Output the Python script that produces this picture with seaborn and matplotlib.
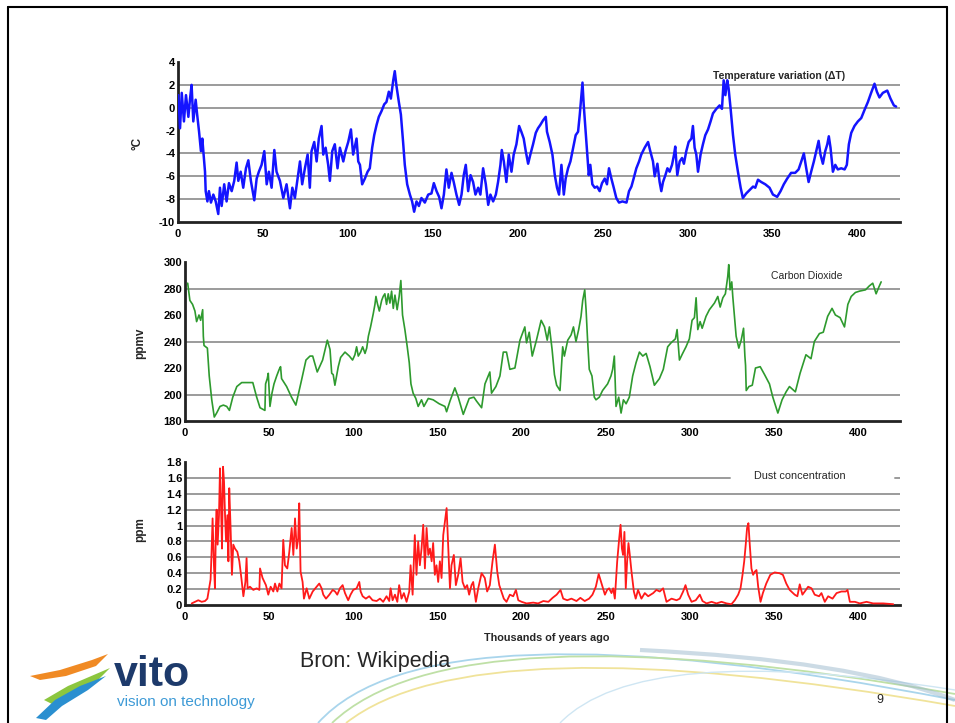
'''
Vostok ice core slide: temperature, CO2 and dust over the last 420 000 years.
'''

#####################################
# Import Modules at the Top
#####################################

import seaborn as sns
import matplotlib.pyplot as plt
from matplotlib.patches import Polygon, PathPatch
from matplotlib.path import Path
from matplotlib.lines import Line2D

#####################################
# Data
#####################################

x_ticks = [0, 50, 100, 150, 200, 250, 300, 350, 400]
x_tick_labels = ["0", "50", "100", "150", "200", "250", "300", "350", "400"]

temp_ticks = [4, 2, 0, -2, -4, -6, -8, -10]
temp_tick_labels = ["4", "2", "0", "-2", "-4", "-6", "-8", "-10"]
temp_grid = [2, 0, -4, -6, -8]

co2_ticks = [300, 280, 260, 240, 220, 200, 180]
co2_tick_labels = ["300", "280", "260", "240", "220", "200", "180"]
co2_grid = [280, 240, 200]

dust_ticks = [1.8, 1.6, 1.4, 1.2, 1.0, 0.8, 0.6, 0.4, 0.2, 0]
dust_tick_labels = ["1.8", "1.6", "1.4", "1.2", "1", "0.8", "0.6", "0.4", "0.2", "0"]
dust_grid = [1.4, 1.2, 1.0, 0.8, 0.6, 0.4, 0.2]

temp_age = [0.2, 1.2, 2.2, 3.5, 4.7, 6.1, 7.1, 8.0, 9.0, 10.4, 11.2, 12.4, 13.5, 14.3,
            15.9, 16.3, 17.3, 18.2, 19.4, 20.8, 22.2, 23.7, 24.7, 25.7, 27.2, 28.6,
            30.0, 31.6, 33.1, 34.5, 35.5, 36.9, 38.4, 40.0, 41.4, 42.9, 44.9, 46.3,
            47.6, 49.2, 50.8, 52.2, 53.5, 55.1, 56.7, 58.0, 60.0, 62.0, 63.9, 65.9,
            67.3, 68.8, 70.4, 71.8, 73.1, 74.7, 76.3, 77.6, 78.6, 80.2, 81.6, 82.9,
            84.5, 85.5, 86.9, 88.4, 89.4, 90.8, 92.3, 93.9, 95.3, 97.3, 98.6, 100.2,
            101.8, 103.1, 105.1, 106.1, 107.1, 108.4, 110.0, 111.6, 112.9, 114.3,
            115.5, 116.9, 118.2, 119.8, 121.4, 122.7, 124.1, 125.3, 126.7, 127.6,
            128.6, 130.0, 131.2, 132.5, 133.5, 134.9, 136.5, 137.8, 139.0, 140.4,
            141.8, 143.3, 145.3, 147.3, 149.2, 150.6, 152.2, 153.7, 155.1, 156.5,
            158.0, 159.4, 161.0, 162.3, 163.9, 165.5, 166.9, 168.2, 169.4, 170.8,
            172.2, 173.7, 175.1, 176.7, 178.0, 179.6, 181.2, 182.6, 183.9, 185.5,
            187.1, 188.4, 189.8, 190.6, 191.8, 193.3, 194.7, 196.3, 197.6, 199.2,
            200.8, 202.1, 203.5, 204.7, 206.1, 207.4, 209.0, 210.6, 211.9, 213.3,
            214.9, 216.5, 217.2, 218.8, 220.4, 221.8, 223.1, 224.3, 225.7, 227.1,
            228.2, 229.6, 231.0, 232.6, 234.1, 235.5, 236.5, 237.5, 238.1, 238.8,
            239.8, 240.8, 241.8, 242.7, 243.9, 245.3, 246.7, 248.2, 249.6, 251.2,
            252.5, 253.7, 255.1, 256.5, 258.0, 259.6, 261.6, 264.0, 265.5, 266.9,
            268.2, 269.8, 271.4, 272.7, 274.7, 276.7, 278.0, 279.6, 280.6, 282.2,
            283.5, 284.5, 285.5, 286.9, 288.1, 289.4, 290.8, 292.0, 292.7, 293.9,
            295.3, 296.7, 297.8, 299.2, 300.6, 302.2, 303.1, 304.1, 305.1, 306.1,
            307.6, 309.0, 310.4, 312.0, 313.5, 314.9, 316.9, 318.8, 320.2, 321.2,
            322.2, 323.3, 324.1, 325.3, 326.7, 328.0, 329.6, 331.2, 332.5, 334.5,
            336.5, 338.5, 339.8, 341.4, 343.3, 345.7, 348.2, 350.2, 352.7, 354.7,
            356.6, 358.6, 360.9, 363.3, 365.3, 366.9, 368.4, 369.8, 371.2, 372.7,
            374.3, 375.7, 377.1, 378.2, 379.6, 381.0, 382.2, 383.1, 384.1, 385.5,
            386.9, 388.4, 390.4, 392.4, 393.7, 394.9, 396.3, 398.2, 400.2, 402.2,
            404.1, 406.1, 408.0, 410.0, 411.4, 412.9, 414.9, 417.5, 419.4, 421.4,
            422.7]
temp_val = [1.1, -1.8, 1.3, -1.2, 1.1, -0.8, 0.8, 2.0, -1.2, 0.7, -0.5, -2.1, -3.8, -2.7,
            -5.6, -7.3, -8.2, -7.3, -8.3, -7.6, -8.2, -9.3, -7.0, -8.6, -6.7, -8.2,
            -6.6, -7.3, -6.4, -4.8, -6.4, -5.6, -7.0, -5.3, -4.6, -6.4, -8.1, -6.2,
            -5.6, -5.0, -3.8, -6.7, -5.6, -7.0, -3.7, -5.6, -6.4, -7.9, -6.7, -8.8,
            -7.0, -7.9, -6.2, -4.7, -6.7, -5.3, -4.1, -7.0, -3.8, -3.0, -4.7, -2.7,
            -1.6, -4.1, -3.5, -5.0, -6.4, -3.8, -3.2, -5.3, -3.5, -4.7, -3.8, -3.0,
            -1.9, -4.1, -2.7, -4.7, -5.0, -6.7, -6.2, -5.6, -5.3, -3.5,
            -2.4, -1.5, -0.8, -0.3, 0.3, 0.5, 1.4, 0.8, 2.4, 3.2,
            1.9, 0.5, -0.6, -3.0, -5.0, -6.7, -7.6, -8.2, -9.1, -8.2,
            -8.6, -7.9, -8.3, -7.6, -7.5, -6.6, -7.3, -7.8, -8.8, -7.6,
            -5.4, -7.0, -5.7, -6.5, -7.6, -8.5, -7.6, -5.9, -5.0, -7.3,
            -5.9, -6.5, -7.6, -7.0, -7.6, -5.3, -6.7, -8.5, -7.6, -8.2,
            -7.6, -6.5, -5.0, -3.7, -4.7, -6.5, -4.1, -5.6, -4.1, -3.2,
            -1.6, -2.1, -2.7, -3.8, -4.9, -4.1, -3.2, -2.2, -1.8, -1.5,
            -1.1, -0.8, -2.1, -3.0, -4.1, -5.9, -7.0, -7.6, -5.0, -7.6,
            -6.2, -5.3, -4.7, -3.5, -2.4, -2.1, -0.6, 1.1, 2.2, 0.3,
            -1.8, -3.8, -5.9, -5.0, -6.7, -7.0, -6.9, -7.3, -6.6, -6.2,
            -6.7, -5.3, -6.2, -7.0, -7.9, -8.3, -8.2, -8.3, -7.3, -6.9,
            -6.2, -5.3, -4.7, -4.1, -3.5, -3.0, -3.8, -4.7, -6.0, -4.9,
            -6.5, -7.3, -6.5, -5.9, -5.3, -5.6, -5.0, -4.1, -3.4, -5.9,
            -4.7, -4.4, -4.9, -3.8, -3.0, -2.7, -1.6, -3.5, -4.1, -5.6,
            -4.1, -3.2, -2.4, -1.9, -1.2, -0.5, -0.1, 0.2, -0.1, 2.4,
            1.1, 2.4, 1.7, -0.1, -2.4, -4.1, -5.6, -7.0, -7.9, -7.5,
            -7.2, -6.9, -7.0, -6.3, -6.5, -6.7, -7.0, -7.6, -7.8, -7.3,
            -6.7, -6.2, -5.7, -5.7, -5.4, -4.7, -4.0, -5.3, -6.5, -5.6,
            -4.7, -3.8, -2.9, -4.1, -4.9, -3.8, -3.2, -2.5, -3.5, -5.6,
            -5.0, -5.4, -5.3, -5.4, -5.0, -3.2, -2.2, -1.6, -1.2, -0.9,
            -0.2, 0.5, 1.3, 2.1, 1.4, 0.9, 1.3, 1.5, 0.8, 0.2,
            0.1]

co2_age = [1.6, 2.9, 4.5, 5.9, 6.9, 8.3, 9.3, 10.5, 10.9, 11.3, 13.3, 14.4, 15.9, 17.4,
           18.8, 20.8, 22.8, 24.8, 26.4, 28.4, 30.8, 33.7, 37.1, 40.3, 42.6, 44.6, 47.5,
           47.9, 48.9, 49.5, 50.5, 51.7, 52.9, 54.5, 56.0, 56.8, 57.4, 60.4, 63.3, 65.9,
           69.3, 71.9, 74.3, 75.9, 78.6, 81.8, 84.6, 86.2, 87.2, 88.1, 89.1, 91.1, 92.5,
           95.1, 97.7, 99.6, 101.0, 102.0, 103.0, 104.4, 105.6, 107.0, 108.0, 109.0,
           110.3, 111.9, 112.9, 113.5, 114.3, 115.5, 116.9, 117.8, 118.8, 119.8, 120.8,
           121.8, 122.8, 123.8, 124.8, 126.1, 127.3, 128.3, 129.3, 130.7, 132.1, 133.3,
           134.3, 135.6, 137.2, 138.6, 140.6, 142.0, 144.6, 147.5, 151.1, 154.5, 155.5,
           157.5, 160.4, 162.4, 165.4, 168.9, 171.7, 173.3, 176.3, 178.3, 181.2, 182.2,
           184.8, 187.2, 189.2, 191.1, 193.1, 196.1, 199.1, 202.0, 203.0, 204.6, 206.4,
           208.9, 211.7, 213.7, 215.3, 216.6, 218.2, 219.6, 220.9, 222.9, 224.5, 225.5,
           227.5, 229.5, 230.9, 232.4, 234.0, 235.4, 236.4, 237.6, 238.4, 239.3, 240.3,
           241.9, 243.3, 244.3, 246.3, 248.2, 251.2, 253.2, 254.2, 255.2, 256.2, 257.8,
           259.2, 260.6, 262.2, 264.1, 266.1, 268.1, 270.1, 272.1, 274.1, 276.4, 279.0,
           282.0, 284.3, 286.9, 288.9, 291.5, 292.5, 293.9, 295.8, 297.8, 299.8, 301.4,
           302.8, 303.8, 304.8, 306.2, 307.4, 309.7, 311.7, 314.7, 316.7, 318.1, 319.7,
           321.2, 322.6, 323.2, 324.0, 325.0, 325.6, 326.6, 327.6, 329.2, 330.6, 332.0,
           332.8, 333.2, 333.6, 335.2, 337.2, 339.1, 341.9, 344.5, 347.4, 349.4, 352.4,
           354.9, 357.3, 359.3, 362.8, 365.6, 369.1, 372.1, 374.1, 377.1, 379.4, 382.0,
           384.6, 386.6, 389.4, 392.0, 394.0, 396.0, 398.5, 400.9, 404.5, 406.8, 408.8,
           410.8, 412.4, 413.8]
co2_val = [284, 271, 268, 263, 255, 260, 256, 264, 244, 237, 235, 214, 196, 183,
           186, 191, 192, 191, 188, 198, 206, 209, 209, 209, 198, 190, 188,
           208, 212, 216, 191, 201, 208, 214, 219, 221, 212, 206, 198, 192,
           211, 226, 229, 229, 217, 226, 241, 234, 216, 215, 207, 221, 228,
           232, 229, 226, 230, 236, 229, 232, 236, 231, 235, 244,
           251, 261, 268, 274, 269, 263, 271, 274, 276, 268, 276,
           269, 278, 265, 275, 264, 274, 286, 260, 249, 236, 224,
           208, 201, 197, 191, 196, 191, 197, 196, 193, 191, 187,
           195, 205, 198, 185, 197, 198, 195, 190, 208, 217, 201,
           206, 214, 232, 232, 219, 220, 241, 251, 239, 247, 229,
           241, 256, 251, 241, 251, 234, 215, 207, 203, 236, 229,
           241, 245, 251, 240, 249, 259, 271, 279, 264, 241, 219,
           214, 198, 196, 198, 203, 208, 214, 219, 229, 191, 198,
           186, 196, 193, 198, 214, 224, 232, 229, 231, 221, 207,
           212, 219, 236, 239, 242, 249, 226, 231, 236, 242, 256,
           258, 273, 249, 255, 250, 259, 264, 269, 274, 266, 273,
           276, 289, 298, 279, 285, 274, 259, 244, 235, 241, 250,
           229, 222, 203, 206, 207, 220, 221, 215, 208, 198, 186,
           196, 202, 206, 202, 216, 230, 227, 240, 246, 247, 259,
           265, 260, 258, 251, 268, 274, 277, 278, 279, 282, 284,
           276, 281, 285]

dust_age = [4.0, 5.9, 7.9, 9.9, 11.9, 13.3, 14.5, 15.2, 15.8, 16.4, 17.2, 17.8, 18.4,
            18.8, 19.4, 20.2, 20.8, 21.4, 22.0, 22.6, 23.2, 23.8, 24.4, 25.2, 25.8,
            26.3, 27.1, 27.9, 28.7, 29.7, 31.1, 32.3, 33.5, 34.7, 35.9, 36.6, 37.2,
            38.6, 40.6, 42.6, 44.2, 44.6, 46.1, 48.1, 49.5, 50.9, 52.5, 53.5, 54.9,
            56.1, 57.4, 58.4, 59.4, 60.8, 62.0, 63.4, 64.4, 65.4, 66.4, 67.3, 67.9,
            68.7, 69.9, 70.7, 72.3, 73.9, 75.9, 78.2, 79.8, 81.2, 82.2, 83.8, 85.8,
            87.8, 89.2, 90.5, 92.1, 93.7, 95.1, 97.0, 98.4, 100.0, 102.0, 103.6, 104.4,
            105.6, 107.5, 109.5, 111.5, 113.9, 115.9, 117.8, 119.8, 121.4, 122.2, 123.4,
            124.8, 126.2, 127.3, 128.7, 130.1, 131.7, 133.3, 134.1, 135.3, 136.6, 137.6,
            138.6, 139.6, 140.6, 141.6, 142.6, 143.6, 144.6, 145.6, 146.6, 147.5, 148.5,
            149.5, 150.5, 151.5, 152.5, 153.5, 154.5, 155.5, 156.5, 157.5, 158.4, 159.8,
            161.0, 162.4, 163.8, 165.0, 166.4, 167.7, 168.9, 170.3, 171.3, 172.9, 174.3,
            176.3, 178.2, 179.6, 181.2, 182.8, 184.2, 185.6, 186.8, 188.1, 189.5, 191.1,
            193.1, 195.1, 196.7, 198.1, 200.1, 203.0, 207.0, 209.9, 213.0, 216.0, 218.5,
            220.9, 223.2, 224.8, 227.2, 229.7, 232.7, 235.0, 237.6, 240.2, 242.2, 244.2,
            245.9, 247.6, 249.6, 250.9, 252.1, 253.5, 254.5, 255.5, 256.9, 258.1, 258.9,
            259.7, 260.4, 261.2, 262.0, 262.8, 263.6, 264.4, 265.4, 266.8, 267.9, 269.3,
            271.3, 273.3, 275.3, 278.3, 280.2, 282.2, 284.2, 286.2, 289.2, 292.2, 294.1,
            296.1, 297.5, 299.1, 301.1, 303.6, 306.0, 307.6, 310.0, 313.0, 315.9, 318.9,
            321.9, 324.8, 326.8, 328.8, 330.2, 331.4, 332.4, 333.3, 334.1, 334.9, 335.7,
            336.7, 337.7, 338.7, 339.7, 340.7, 342.1, 343.5, 345.5, 347.9, 350.5, 353.4,
            355.4, 357.4, 359.4, 362.4, 364.0, 365.4, 367.0, 368.4, 370.4, 372.4, 374.3,
            376.9, 378.3, 380.3, 382.3, 384.9, 387.3, 390.2, 392.8, 393.8, 395.2, 398.2,
            401.1, 405.1, 409.0, 415.0, 421.0]
dust_val = [0.02, 0.04, 0.06, 0.04, 0.05, 0.08, 0.23, 0.32, 0.67, 1.09, 0.50, 0.21, 1.01,
            1.20, 0.76, 1.13, 1.72, 1.26, 0.71, 1.74, 1.55, 1.13, 0.80, 1.13, 0.55,
            1.47, 0.97, 0.38, 0.76, 0.71, 0.67, 0.55, 0.34, 0.11, 0.29, 0.59, 0.21,
            0.23, 0.19, 0.21, 0.19, 0.46, 0.34, 0.25, 0.13, 0.23, 0.17, 0.27, 0.17,
            0.27, 0.21, 0.82, 0.50, 0.46, 0.67, 0.97, 0.63, 1.09, 0.71, 0.84, 1.28,
            0.42, 0.29, 0.08, 0.21, 0.08, 0.17, 0.23, 0.27, 0.21, 0.13, 0.08, 0.13,
            0.19, 0.17, 0.13, 0.21, 0.25, 0.15, 0.06, 0.13, 0.19, 0.21, 0.29, 0.17,
            0.11, 0.08, 0.11, 0.06, 0.05, 0.08, 0.04, 0.11, 0.05, 0.21, 0.06,
            0.13, 0.04, 0.25, 0.08, 0.15, 0.04, 0.17, 0.50, 0.13, 0.88, 0.38,
            0.80, 0.50, 0.71, 1.01, 0.46, 0.97, 0.63, 0.71, 0.55, 0.78, 0.38,
            0.50, 0.29, 0.55, 0.34, 0.88, 1.05, 1.22, 0.71, 0.21, 0.50, 0.63,
            0.25, 0.38, 0.59, 0.29, 0.21, 0.25, 0.13, 0.25, 0.29, 0.04, 0.21,
            0.40, 0.34, 0.17, 0.25, 0.55, 0.76, 0.42, 0.25, 0.17, 0.08, 0.04,
            0.13, 0.11, 0.19, 0.06, 0.04, 0.02, 0.03, 0.02, 0.05, 0.04, 0.09,
            0.13, 0.19, 0.08, 0.06, 0.08, 0.05, 0.09, 0.05, 0.08, 0.13, 0.23,
            0.39, 0.27, 0.13, 0.19, 0.21, 0.15, 0.21, 0.08, 0.55, 0.84, 1.01,
            0.71, 0.63, 0.92, 0.21, 0.55, 0.78, 0.63, 0.42, 0.17, 0.08, 0.19,
            0.08, 0.15, 0.11, 0.15, 0.19, 0.17, 0.21, 0.04, 0.08, 0.06, 0.08,
            0.17, 0.25, 0.13, 0.04, 0.06, 0.13, 0.05, 0.02, 0.04, 0.02, 0.04,
            0.02, 0.01, 0.06, 0.13, 0.21, 0.38, 0.55, 0.76, 0.97, 1.03, 0.76,
            0.46, 0.38, 0.42, 0.44, 0.23, 0.04, 0.15, 0.27, 0.38, 0.41, 0.40,
            0.38, 0.27, 0.19, 0.13, 0.11, 0.26, 0.13, 0.17, 0.23, 0.21, 0.13,
            0.11, 0.15, 0.04, 0.11, 0.08, 0.15, 0.17, 0.17, 0.19, 0.04, 0.04,
            0.02, 0.04, 0.02, 0.02, 0.01]

#####################################
# Helpers
#####################################

W, H = 955, 723
GRID = "#9b9b9b"


def fx(px):
    return px / W


def fy(py):
    return 1 - py / H


def style_panel(ax, ylim, ticks, tick_labels, grid_vals):
    ax.set_xlim(0, 425)
    ax.set_ylim(*ylim)
    ax.set_xticks(x_ticks)
    ax.set_xticklabels(x_tick_labels)
    ax.set_yticks(ticks)
    ax.set_yticklabels(tick_labels)
    for v in grid_vals:
        ax.axhline(v, color=GRID, lw=1.4, zorder=1)
    for side in ["top", "right"]:
        ax.spines[side].set_visible(False)
    for side in ["left", "bottom"]:
        ax.spines[side].set_color("#222222")
        ax.spines[side].set_linewidth(2)
    ax.tick_params(direction="in", length=5, width=1.6, color="#444444",
                   labelsize=8, labelcolor="black")
    ax.tick_params(axis="x", pad=5)
    ax.tick_params(axis="y", pad=2)
    for lab in ax.get_xticklabels() + ax.get_yticklabels():
        lab.set_fontweight("bold")
    ax.set_xlabel("")
    ax.set_ylabel("")
    ax.patch.set_alpha(0)


def curve(fig, p0, c, p1, color, lw, alpha=1.0):
    verts = [(fx(p0[0]), fy(p0[1])), (fx(c[0]), fy(c[1])), (fx(p1[0]), fy(p1[1]))]
    path = Path(verts, [Path.MOVETO, Path.CURVE3, Path.CURVE3])
    fig.add_artist(PathPatch(path, fc="none", ec=color, lw=lw, alpha=alpha,
                             transform=fig.transFigure, zorder=0))


def shape(fig, pts, color):
    fig.add_artist(Polygon([(fx(x), fy(y)) for x, y in pts], closed=True, fc=color,
                           ec="none", transform=fig.transFigure))


#####################################
# Main Execution
#####################################

def main():
    sns.set_style("white")
    plt.rcParams["font.family"] = ["Liberation Sans", "DejaVu Sans"]
    plt.rcParams["axes.unicode_minus"] = False

    fig = plt.figure(figsize=(W / 100, H / 100), dpi=100)

    # background swooshes of the slide template
    curve(fig, (318, 723), (430, 598), (955, 700), "#a9d5ec", 1.3)
    curve(fig, (332, 723), (455, 606), (955, 694), "#bfe0a6", 1.3)
    curve(fig, (346, 723), (475, 622), (955, 706), "#f0e39a", 1.3)
    curve(fig, (560, 723), (640, 640), (955, 690), "#cfe6f3", 1.0)
    curve(fig, (640, 650), (850, 660), (955, 700), "#9ab8cc", 3.0, alpha=0.5)

    # slide frame
    for xs, ys in [([8, 8], [7, 723]), ([8, 947], [7, 7]), ([947, 947], [7, 723])]:
        fig.add_artist(Line2D([fx(x) for x in xs], [fy(y) for y in ys], color="black",
                              lw=1.5, transform=fig.transFigure))

    ax_t = fig.add_axes([fx(178), fy(222), (900 - 178) / W, (222 - 62) / H])
    ax_c = fig.add_axes([fx(185), fy(421), (900 - 185) / W, (421 - 262) / H])
    ax_d = fig.add_axes([fx(185), fy(605), (900 - 185) / W, (605 - 462) / H])

    sns.lineplot(x=temp_age, y=temp_val, ax=ax_t, color="#1414ff", linewidth=1.8,
                 estimator=None, sort=False, zorder=3)
    style_panel(ax_t, (-10, 4), temp_ticks, temp_tick_labels, temp_grid)

    sns.lineplot(x=co2_age, y=co2_val, ax=ax_c, color="#2e9a2e", linewidth=1.2,
                 estimator=None, sort=False, zorder=3)
    style_panel(ax_c, (180, 300), co2_ticks, co2_tick_labels, co2_grid)

    sns.lineplot(x=dust_age, y=dust_val, ax=ax_d, color="#ff1a1a", linewidth=1.3,
                 estimator=None, sort=False, zorder=3)
    style_panel(ax_d, (0, 1.8), dust_ticks, dust_tick_labels, dust_grid)
    # the 1.6 grid line is interrupted by the panel title
    ax_d.axhline(1.6, xmax=(730 - 185) / 715, color=GRID, lw=1.4, zorder=1)
    ax_d.axhline(1.6, xmin=(895 - 185) / 715, color=GRID, lw=1.4, zorder=1)

    # panel titles and axis labels
    fig.text(fx(779), fy(76), "Temperature variation (ΔT)", ha="center", va="center",
             fontsize=7.5, fontweight="bold", zorder=5)
    fig.text(fx(807), fy(276), "Carbon Dioxide", ha="center", va="center", fontsize=7.5)
    fig.text(fx(800), fy(476), "Dust concentration", ha="center", va="center", fontsize=7.8)
    fig.text(fx(137), fy(143), "°C", ha="center", va="center", rotation=90,
             fontsize=8.5, fontweight="bold")
    fig.text(fx(140), fy(343), "ppmv", ha="center", va="center", rotation=90,
             fontsize=8.5, fontweight="bold")
    fig.text(fx(140), fy(530), "ppm", ha="center", va="center", rotation=90,
             fontsize=8.5, fontweight="bold")
    fig.text(fx(547), fy(638), "Thousands of years ago", ha="center", va="center",
             fontsize=7.8, fontweight="bold")

    # footer: source, logo, page number
    fig.text(fx(300), fy(662), "Bron: Wikipedia", ha="left", va="center", fontsize=15.5)
    fig.text(fx(880), fy(700), "9", ha="center", va="center", fontsize=9)
    shape(fig, [(30, 676), (60, 670), (92, 660), (108, 654), (96, 666), (66, 676), (40, 680)],
          "#f08a24")
    shape(fig, [(44, 700), (68, 686), (96, 674), (110, 668), (98, 680), (72, 692), (52, 704)],
          "#8cc63f")
    shape(fig, [(36, 718), (55, 700), (80, 686), (106, 676), (88, 690), (62, 706), (46, 720)],
          "#2a8fd0")
    fig.text(fx(114), fy(686), "vito", ha="left", va="baseline", fontsize=31,
             fontweight="bold", color="#1d3a6b")
    fig.text(fx(117), fy(695), "vision on technology", ha="left", va="top",
             fontsize=11, color="#3d9ad6")

    fig.savefig("out.png", dpi=100)


if __name__ == "__main__":
    main()
